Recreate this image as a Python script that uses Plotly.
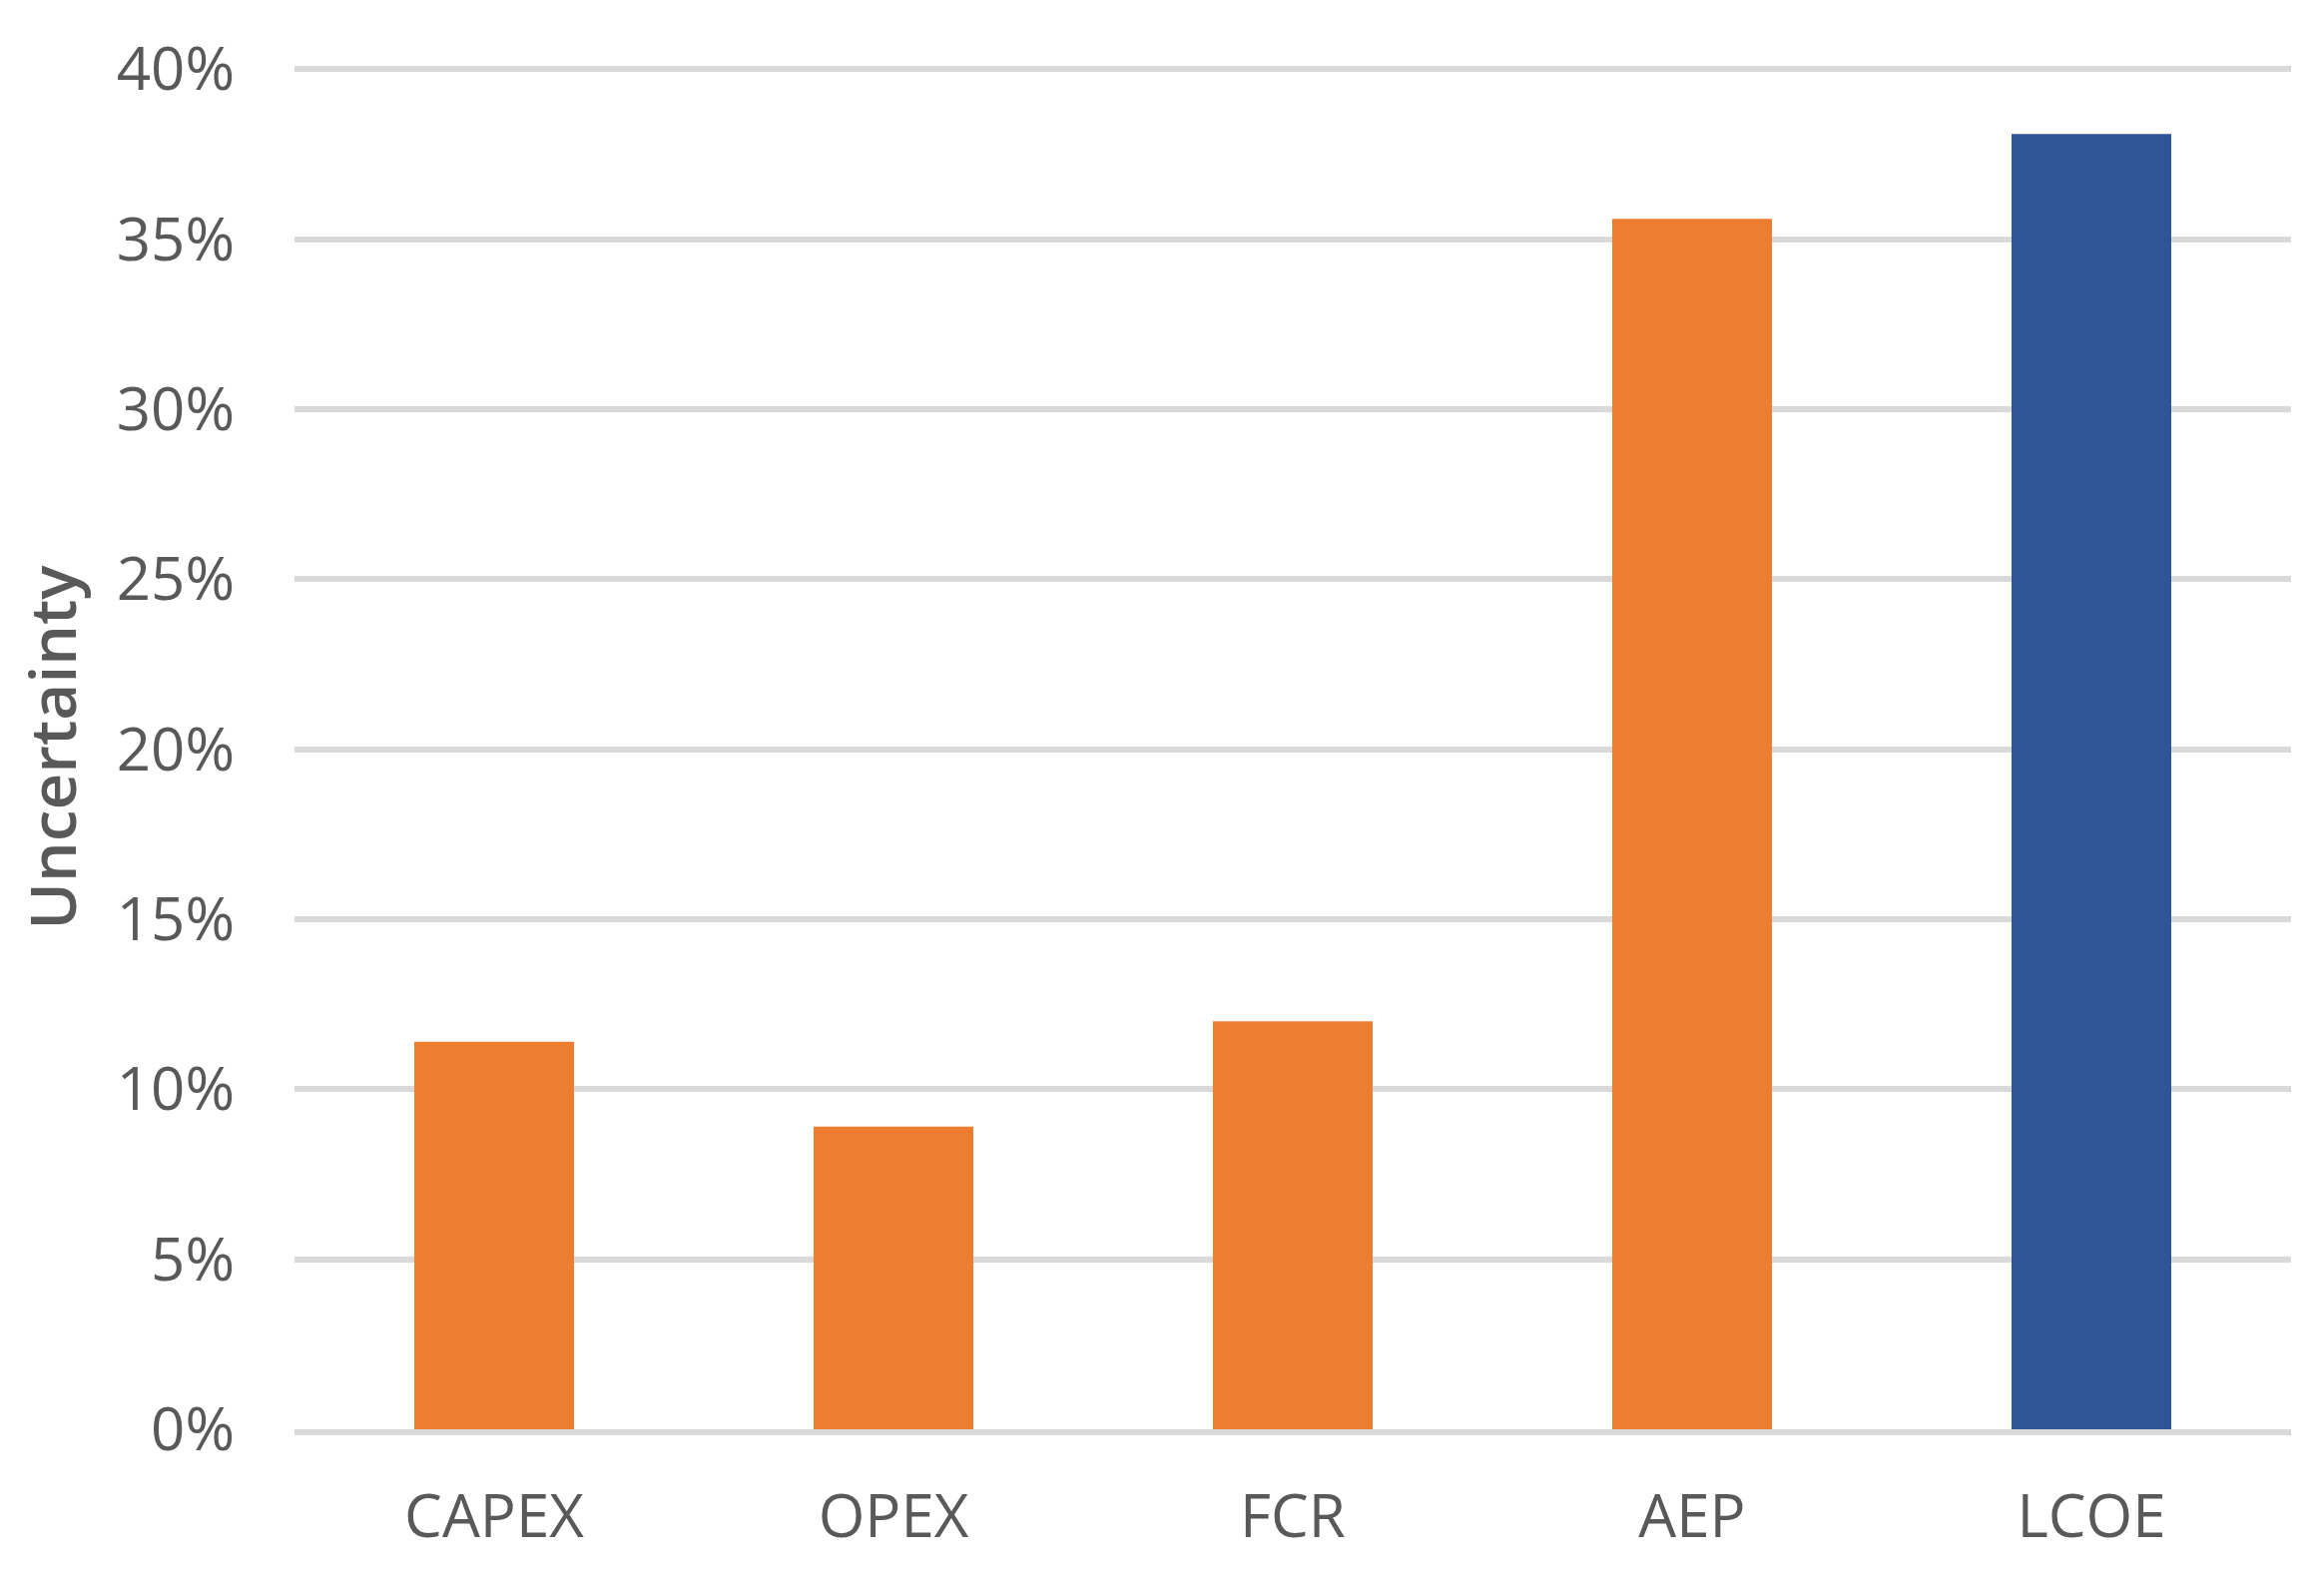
import plotly.graph_objects as go

categories = ["CAPEX", "OPEX", "FCR", "AEP", "LCOE"]
uncertainty = [0.114, 0.089, 0.120, 0.356, 0.381]
bar_colors = ["#ED7D31", "#ED7D31", "#ED7D31", "#ED7D31", "#2F5597"]
y_ticks = [0, 0.05, 0.10, 0.15, 0.20, 0.25, 0.30, 0.35, 0.40]

FONT = "Open Sans"
TXT = "#595959"

fig = go.Figure(
    go.Bar(x=categories, y=uncertainty, marker=dict(color=bar_colors, line=dict(width=0)))
)

fig.update_layout(
    width=2328,
    height=1577,
    paper_bgcolor="white",
    plot_bgcolor="white",
    margin=dict(l=287, r=41, t=58, b=153),
    bargap=0.6,
    showlegend=False,
    font=dict(family=FONT, color=TXT, size=60),
)

fig.update_xaxes(
    showgrid=False,
    showline=True,
    linecolor="#D9D9D9",
    linewidth=6,
    ticks="",
    ticklabelstandoff=30,
    tickfont=dict(family=FONT, size=60, color=TXT),
)

fig.update_yaxes(
    range=[0, 0.401],
    tickvals=y_ticks,
    tickformat=".0%",
    showgrid=True,
    gridcolor="#D9D9D9",
    gridwidth=6,
    zeroline=False,
    showline=False,
    ticks="",
    ticklabelstandoff=59,
    tickfont=dict(family=FONT, size=60, color=TXT),
    title=dict(text="Uncertainty", font=dict(family=FONT, size=64, color=TXT, weight=600), standoff=23),
)

fig.write_html("out.html")
